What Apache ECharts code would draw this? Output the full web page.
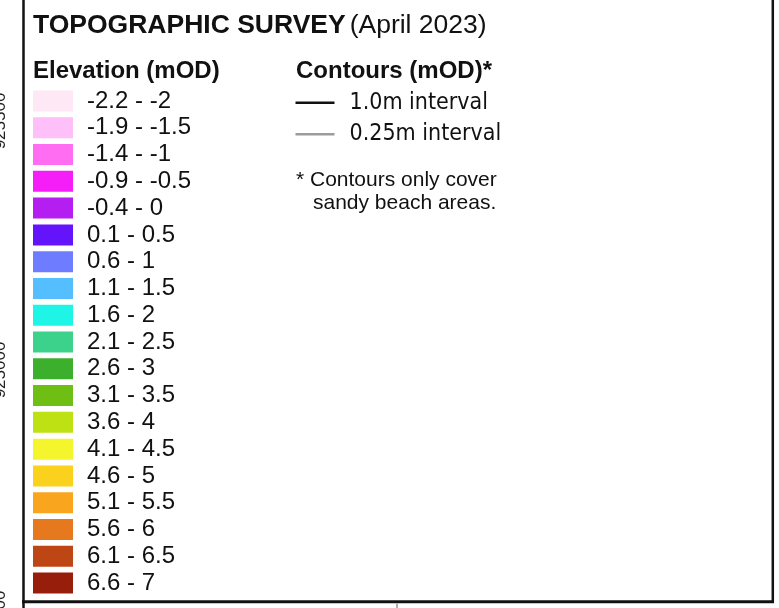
<!DOCTYPE html>
<html>
<head>
<meta charset="utf-8">
<title>Topographic survey legend</title>
<script src="https://cdn.jsdelivr.net/npm/echarts@6/dist/echarts.min.js"></script>
<style>
  html, body { margin: 0; padding: 0; background: #fff; }
  #chart { width: 779px; height: 608px; }
</style>
</head>
<body>
<div id="chart"></div>
<script>
// elevation classes (mOD), top to bottom
var elevClasses = [
  '-2.2 - -2', '-1.9 - -1.5', '-1.4 - -1', '-0.9 - -0.5', '-0.4 - 0',
  '0.1 - 0.5', '0.6 - 1', '1.1 - 1.5', '1.6 - 2', '2.1 - 2.5',
  '2.6 - 3', '3.1 - 3.5', '3.6 - 4', '4.1 - 4.5', '4.6 - 5',
  '5.1 - 5.5', '5.6 - 6', '6.1 - 6.5', '6.6 - 7'
]
var elevColors = [
  '#ffe8f5', '#ffbff9', '#ff6ef2', '#f51ef8', '#b41ef0',
  '#6414fa', '#6e7dff', '#55beff', '#1ef5e6', '#3cd28c',
  '#3caf2d', '#6ebe14', '#bee114', '#f5f52d', '#fad21e',
  '#faa51e', '#e6781e', '#be4614', '#961e0a'
]
// contour keys
var contourNames = ['1.0m interval', '0.25m interval']
var contourColors = ['#111111', '#9c9c9c']
// northing labels on the neatline (mostly cut off)
var northings = ['925500', '925000', '924500']

var chart = echarts.init(document.getElementById('chart'), null, { renderer: 'canvas' })

var rowH = 26.78
var northingY = [121, 370, 619]

var graphics = [
  // neatline
  { type: 'line', shape: { x1: 23.5, y1: 0, x2: 23.5, y2: 608 }, style: { stroke: '#111', lineWidth: 2.5 } },
  { type: 'line', shape: { x1: 772.8, y1: 0, x2: 772.8, y2: 603 }, style: { stroke: '#111', lineWidth: 2.5 } },
  { type: 'line', shape: { x1: 22, y1: 601.8, x2: 774, y2: 601.8 }, style: { stroke: '#111', lineWidth: 3 } },
  { type: 'line', shape: { x1: 397, y1: 603, x2: 397, y2: 608 }, style: { stroke: '#b0b0b0', lineWidth: 2 } },
  // title
  {
    type: 'text', left: 33, top: 12,
    style: {
      text: '{b|TOPOGRAPHIC SURVEY}{r|(April 2023)}',
      rich: {
        b: { fontFamily: 'Liberation Sans', fontWeight: 'bold', fontSize: 26.5, fill: '#111' },
        r: { fontFamily: 'Liberation Sans', fontSize: 26.5, fill: '#111', padding: [0, 0, 0, 4] }
      }
    }
  },
  {
    type: 'text', x: 33, y: 71.7,
    style: { text: 'Elevation (mOD)', fontFamily: 'Liberation Sans', fontWeight: 'bold', fontSize: 24, fill: '#111', verticalAlign: 'middle' }
  },
  {
    type: 'text', x: 296, y: 71.7,
    style: { text: 'Contours (mOD)*', fontFamily: 'Liberation Sans', fontWeight: 'bold', fontSize: 24, fill: '#111', verticalAlign: 'middle' }
  },
  {
    type: 'text', x: 296, y: 180,
    style: { text: '* Contours only cover', fontFamily: 'Liberation Sans', fontSize: 21, fill: '#111', verticalAlign: 'middle' }
  },
  {
    type: 'text', x: 313, y: 203,
    style: { text: 'sandy beach areas.', fontFamily: 'Liberation Sans', fontSize: 21, fill: '#111', verticalAlign: 'middle' }
  }
]

northings.forEach(function (n, i) {
  graphics.push({
    type: 'text', x: 9, y: northingY[i], rotation: Math.PI / 2,
    style: { text: n, fontFamily: 'Liberation Sans', fontSize: 17, fill: '#222', align: 'center', verticalAlign: 'bottom' }
  })
})

chart.setOption({
  animation: false,
  backgroundColor: '#fff',
  grid: [
    { left: 53, top: 101 - rowH / 2, width: 100, height: rowH * elevClasses.length },
    { left: 315, top: 87, width: 100, height: 63 }
  ],
  xAxis: [
    { gridIndex: 0, type: 'value', min: 0, max: 1, show: false },
    { gridIndex: 1, type: 'value', min: 0, max: 1, show: false }
  ],
  yAxis: [
    { gridIndex: 0, type: 'category', data: elevClasses, inverse: true, show: false },
    { gridIndex: 1, type: 'category', data: contourNames, inverse: true, show: false }
  ],
  graphic: graphics,
  series: [
    {
      name: 'Elevation (mOD)',
      type: 'scatter',
      xAxisIndex: 0,
      yAxisIndex: 0,
      symbol: 'rect',
      symbolSize: [40, 21],
      itemStyle: { opacity: 1 },
      data: elevClasses.map(function (c, i) {
        return { value: [0, c], itemStyle: { color: elevColors[i], opacity: 1 } }
      }),
      label: {
        show: true,
        position: 'right',
        distance: 14,
        formatter: function (p) { return p.value[1] },
        fontFamily: 'Liberation Sans',
        fontSize: 24,
        color: '#111'
      },
      emphasis: { disabled: true }
    },
    {
      name: 'Contours (mOD)',
      type: 'scatter',
      xAxisIndex: 1,
      yAxisIndex: 1,
      symbol: 'rect',
      symbolSize: [39, 2.5],
      itemStyle: { opacity: 1 },
      data: contourNames.map(function (c, i) {
        return { value: [0, c], itemStyle: { color: contourColors[i], opacity: 1 } }
      }),
      label: {
        show: true,
        position: 'right',
        distance: 15,
        formatter: function (p) { return p.value[1] },
        fontFamily: "'DejaVu Sans Condensed', 'DejaVu Sans'",
        fontSize: 23,
        color: '#111',
        padding: [3, 0, 0, 0]
      },
      emphasis: { disabled: true }
    }
  ]
})
</script>
</body>
</html>
